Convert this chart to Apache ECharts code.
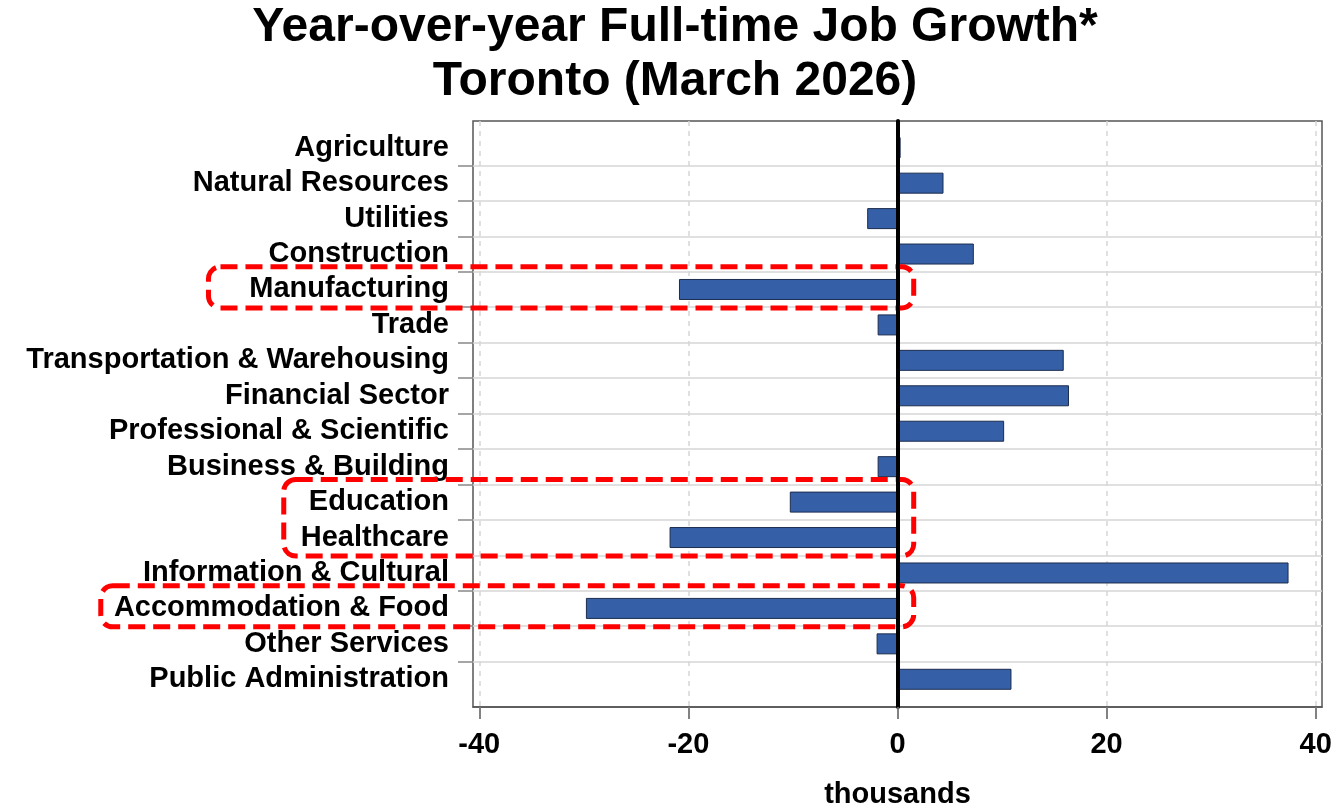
<!DOCTYPE html>
<html>
<head>
<meta charset="utf-8">
<script src="https://cdn.jsdelivr.net/npm/echarts@6/dist/echarts.min.js"></script>
<style>
html,body{margin:0;padding:0;background:#fff;}
#chart{width:1332px;height:806px;}
</style>
</head>
<body>
<div id="chart"></div>
<script>
// ---- data ----
const categories = [
  'Agriculture', 'Natural Resources', 'Utilities', 'Construction', 'Manufacturing', 'Trade',
  'Transportation & Warehousing', 'Financial Sector', 'Professional & Scientific',
  'Business & Building', 'Education', 'Healthcare', 'Information & Cultural',
  'Accommodation & Food', 'Other Services', 'Public Administration'
];
const values = [0.3, 4.4, -2.9, 7.3, -20.9, -1.9, 15.9, 16.4, 10.2, -1.9, -10.3, -21.8, 37.4, -29.8, -2.0, 10.9];
const xTicks = [-40, -20, 0, 20, 40];
const titleLines = ['Year-over-year Full-time Job Growth*', 'Toronto (March 2026)'];
const axisName = 'thousands';
// highlighted groups (first category, last category, left edge in axis units)
const highlights = [
  { from: 'Manufacturing', to: 'Manufacturing', left: -65.9 },
  { from: 'Education', to: 'Healthcare', left: -58.7 },
  { from: 'Accommodation & Food', to: 'Accommodation & Food', left: -76.2 }
];

// ---- layout ----
const W = 1332, H = 806;
const FRAME = { left: 473, right: 10, top: 121, bottom: 99 };
const ROWS = { left: 473, right: 10, top: 130, bottom: 109 };
const X_MIN = -40.6, X_MAX = 40.6;
const rowH = (H - ROWS.top - ROWS.bottom) / categories.length;
const rowMin = (FRAME.top - ROWS.top) / rowH;
const rowMax = (H - FRAME.bottom - ROWS.top) / rowH;
const sepValues = categories.slice(1).map((_, i) => i + 1);
const FONT = '"Liberation Sans", Arial, Helvetica, sans-serif';

const chart = echarts.init(document.getElementById('chart'), null, { renderer: 'canvas' });

const option = {
  backgroundColor: '#ffffff',
  animation: false,
  textStyle: { fontFamily: FONT },
  title: {
    text: titleLines.join('\n'),
    left: 675,
    textAlign: 'center',
    top: 1,
    padding: 0,
    textStyle: { fontFamily: FONT, fontSize: 48, fontWeight: 'bold', color: '#000', lineHeight: 54 }
  },
  grid: [
    { left: FRAME.left, right: FRAME.right, top: FRAME.top, bottom: FRAME.bottom,
      containLabel: false, outerBoundsMode: 'none',
      show: true, borderColor: '#555', borderWidth: 1.5, backgroundColor: 'transparent' },
    { left: ROWS.left, right: ROWS.right, top: ROWS.top, bottom: ROWS.bottom,
      containLabel: false, outerBoundsMode: 'none' }
  ],
  xAxis: [
    {
      type: 'value', gridIndex: 0, min: X_MIN, max: X_MAX, position: 'bottom',
      axisLine: { show: true, onZero: false, lineStyle: { color: '#555', width: 1.5 } },
      axisTick: { show: true, inside: false, customValues: xTicks, length: 12, lineStyle: { color: '#888', width: 1.5 } },
      axisLabel: { customValues: xTicks, margin: 23, fontSize: 29, fontWeight: 'bold', color: '#000', fontFamily: FONT },
      splitLine: { show: true, lineStyle: { color: '#d6d6d6', width: 1.5, type: [5, 5] } },
      name: axisName, nameLocation: 'middle', nameGap: 73,
      nameTextStyle: { fontSize: 29, fontWeight: 'bold', color: '#000', fontFamily: FONT }
    },
    {
      type: 'value', gridIndex: 1, min: X_MIN, max: X_MAX, show: false,
      axisLine: { onZero: false }
    },
    {
      type: 'value', gridIndex: 0, min: X_MIN, max: X_MAX, position: 'bottom', z: 12,
      axisLine: { show: false, onZero: false },
      axisTick: { show: true, inside: false, customValues: xTicks, length: 12, lineStyle: { color: '#777', width: 1.5 } },
      axisLabel: { show: false },
      splitLine: { show: false }
    }
  ],
  yAxis: [
    {
      type: 'value', gridIndex: 0, inverse: true, min: rowMin, max: rowMax, position: 'left',
      axisLine: { show: false, onZero: false },
      axisTick: { show: true, customValues: sepValues, length: 15, lineStyle: { color: '#888', width: 1.5 } },
      axisLabel: { show: false },
      splitLine: { show: false }
    },
    {
      type: 'value', gridIndex: 0, position: 'right', z: 10,
      axisLine: { show: true, onZero: true, onZeroAxisIndex: 0, lineStyle: { color: '#000', width: 4 } },
      axisTick: { show: false },
      axisLabel: { show: false },
      splitLine: { show: false }
    },
    {
      type: 'category', gridIndex: 1, inverse: true, data: categories,
      axisLine: { show: false, onZero: false },
      axisTick: { show: false },
      axisLabel: { interval: 0, margin: 24, fontSize: 29, fontWeight: 'bold', color: '#000', fontFamily: FONT },
      splitLine: { show: true, interval: 0, showMinLine: false, showMaxLine: false, lineStyle: { color: '#d6d6d6', width: 1.5 } }
    }
  ],
  series: [
    {
      type: 'bar', xAxisIndex: 1, yAxisIndex: 2,
      data: values, barWidth: 21, z: 3,
      itemStyle: { color: '#3560a8', borderColor: '#1c2c4e', borderWidth: 1 }
    }
  ]
};

chart.setOption(option);

// red dashed highlight boxes positioned through the axes
const graphics = highlights.map(h => {
  const i0 = categories.indexOf(h.from), i1 = categories.indexOf(h.to);
  const pTop = chart.convertToPixel({ xAxisIndex: 1, yAxisIndex: 2 }, [h.left, i0]);
  const pBot = chart.convertToPixel({ xAxisIndex: 1, yAxisIndex: 2 }, [1.55, i1]);
  const top = pTop[1] - rowH * 0.64;
  const bottom = pBot[1] + rowH * 0.52;
  return {
    type: 'rect', z: 4,
    shape: { x: pTop[0], y: top, width: pBot[0] - pTop[0], height: bottom - top, r: 12 },
    style: { fill: 'none', stroke: '#ff0000', lineWidth: 5, lineDash: [17, 8] }
  };
});
chart.setOption({ graphic: graphics });
</script>
</body>
</html>
